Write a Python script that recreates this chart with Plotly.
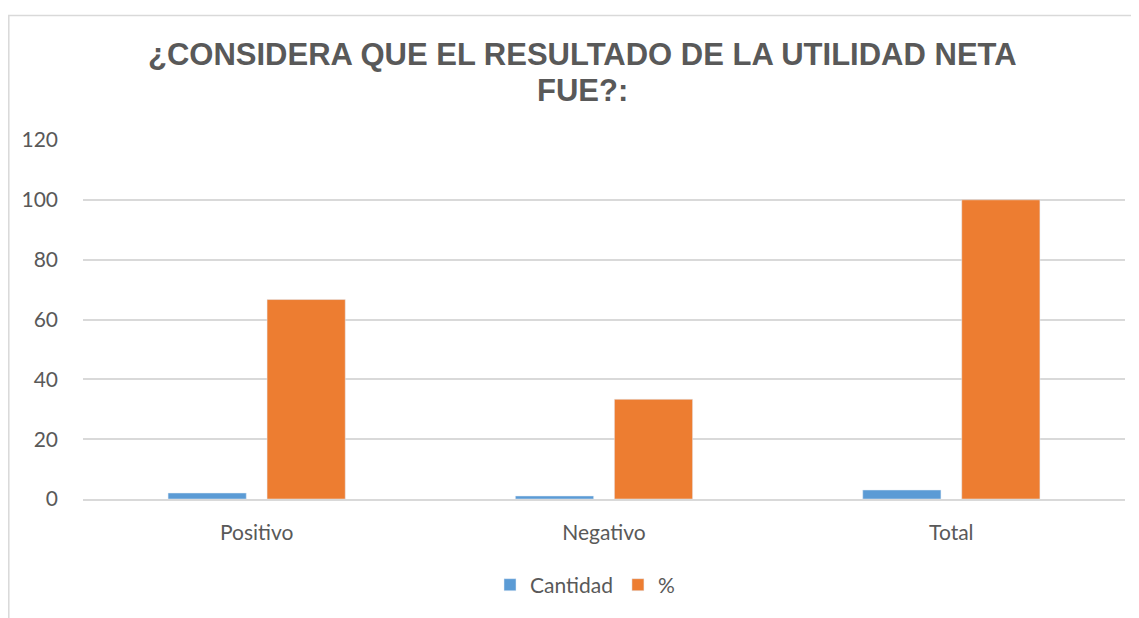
import plotly.graph_objects as go

categories = ["Positivo", "Negativo", "Total"]
cantidad = [2, 1, 3]
porcentaje = [66.67, 33.33, 100]
y_ticks = [0, 20, 40, 60, 80, 100, 120]
title_lines = ["¿CONSIDERA QUE EL RESULTADO DE LA UTILIDAD NETA", "FUE?:"]

OFF = 8  # page body margin
W, H = 1139 - OFF, 618 - OFF
L, R, T, B = 83 - OFF, 1125 - OFF, 140 - OFF, 503 - OFF

fig = go.Figure()
fig.add_trace(go.Bar(name="Cantidad", x=categories, y=cantidad, marker_color="#5B9BD5"))
fig.add_trace(go.Bar(name="%", x=categories, y=porcentaje, marker_color="#ED7D31"))

pw, ph = R - L, B - T
def px_x(x):
    return (x - OFF - L) / pw
def px_y(y):
    return (B - (y - OFF)) / ph

fig.add_shape(type="rect", xref="paper", yref="paper",
              x0=px_x(8.8), x1=px_x(1160), y0=px_y(640), y1=px_y(14),
              line=dict(color="#D9D9D9", width=1.5), fillcolor="rgba(0,0,0,0)", layer="below")

for text, yc in zip(title_lines, [54, 90]):
    fig.add_annotation(text=text, xref="paper", yref="paper", x=px_x(582), y=px_y(yc),
                       xanchor="center", yanchor="middle", showarrow=False,
                       font=dict(family="Liberation Sans, Arial", size=31, color="#595959",
                                 weight="bold"))

fig.update_layout(
    width=W, height=H,
    margin=dict(l=L, r=W - R, t=T, b=H - B, pad=0),
    paper_bgcolor="white", plot_bgcolor="white",
    barmode="group", bargap=0.43, bargroupgap=0.21,
    font=dict(family="Lato, Noto Sans", color="#595959", size=21),
    showlegend=True,
    legend=dict(orientation="h", x=px_x(585), xanchor="center", y=px_y(590), yanchor="middle",
                font=dict(size=21, color="#595959"), itemwidth=30, traceorder="normal"),
    xaxis=dict(showgrid=False, showline=True, linecolor="#D9D9D9", linewidth=1.5,
               ticks="", ticklabelstandoff=14, tickfont=dict(size=21, color="#595959")),
    yaxis=dict(range=[0, 120], tickvals=y_ticks, showgrid=True, gridcolor="#D9D9D9",
               gridwidth=1.5, zeroline=False, showline=False, ticks="",
               ticklabelstandoff=24, tickfont=dict(size=21, color="#595959")),
)
fig.write_html("out.html")
